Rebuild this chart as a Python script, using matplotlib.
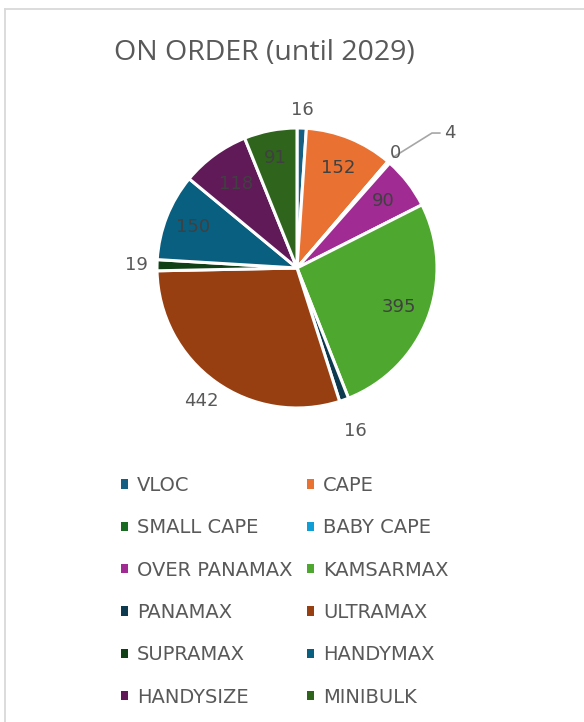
import matplotlib.pyplot as plt
from matplotlib.patches import Patch
from matplotlib.lines import Line2D
import numpy as np

plt.rcParams['font.family'] = ['Open Sans', 'DejaVu Sans']

categories = ['VLOC', 'CAPE', 'SMALL CAPE', 'BABY CAPE', 'OVER PANAMAX', 'KAMSARMAX',
              'PANAMAX', 'ULTRAMAX', 'SUPRAMAX', 'HANDYMAX', 'HANDYSIZE', 'MINIBULK']
on_order = [16, 152, 0, 4, 90, 395, 16, 442, 19, 150, 118, 91]
colors = ['#156082', '#E97132', '#196B24', '#0F9ED5', '#A02B93', '#4EA72E',
          '#0D3A4E', '#983F12', '#0F4016', '#095F80', '#601A58', '#2F641C']

# label radius as a fraction of the pie radius (inside < 1 < outside)
label_r = [1.13, 0.77, 1.08, None, 0.78, 0.78, 1.24, 1.17, 1.15, 0.80, 0.74, 0.80]

label_font = dict(family='DejaVu Sans', size=13)

fig = plt.figure(figsize=(5.84, 7.22), dpi=100)

# thin card border
fig.add_artist(Line2D([4.5/584, 4.5/584], [0, 1 - 9/722], transform=fig.transFigure,
                      color='#d9d9d9', lw=1.3))
fig.add_artist(Line2D([4.5/584, 1], [1 - 9/722, 1 - 9/722], transform=fig.transFigure,
                      color='#d9d9d9', lw=1.3))

fig.text(264/584, 1 - 53/722, 'ON ORDER (until 2029)', ha='center', va='center',
         fontsize=20.5, color='#595959')

ax = fig.add_axes([115/584, 272/722, 364/584, 364/722])
wedges, _ = ax.pie(on_order, colors=colors, startangle=90, counterclock=False,
                   radius=1, wedgeprops=dict(edgecolor='white', linewidth=2.2))
ax.set_xlim(-1.3, 1.3)
ax.set_ylim(-1.3, 1.3)
ax.set_aspect('equal')
ax.axis('off')

for w, val, r in zip(wedges, on_order, label_r):
    mid = np.deg2rad((w.theta1 + w.theta2) / 2)
    if r is None:
        # tiny slice: leader line out to the right
        x0, y0 = 1.05 * np.cos(mid), 1.05 * np.sin(mid)
        ax.plot([x0, 0.964, 1.02], [y0, 0.964, 0.964], color='#a6a6a6', lw=1.2,
                clip_on=False)
        ax.text(1.05, 0.964, str(val), ha='left', va='center', color='#595959',
                **label_font)
        continue
    col = '#404040' if r < 1 else '#595959'
    ax.text(r * np.cos(mid), r * np.sin(mid), str(val), ha='center', va='center',
            color=col, **label_font)

handles = [Patch(facecolor=c, edgecolor='none', label=n) for c, n in zip(colors, categories)]
order = list(range(0, 12, 2)) + list(range(1, 12, 2))
fig.legend([handles[i] for i in order], [categories[i] for i in order],
           ncol=2, loc='upper left', bbox_to_anchor=(121/584, 1 - 476/722),
           frameon=False, prop=dict(family='DejaVu Sans', size=14), labelcolor='#595959',
           handlelength=0.37, handleheight=0.37, handletextpad=0.45,
           columnspacing=0.75, labelspacing=1.2, borderpad=0, borderaxespad=0)

fig.savefig('out.png', dpi=100, facecolor='white')
